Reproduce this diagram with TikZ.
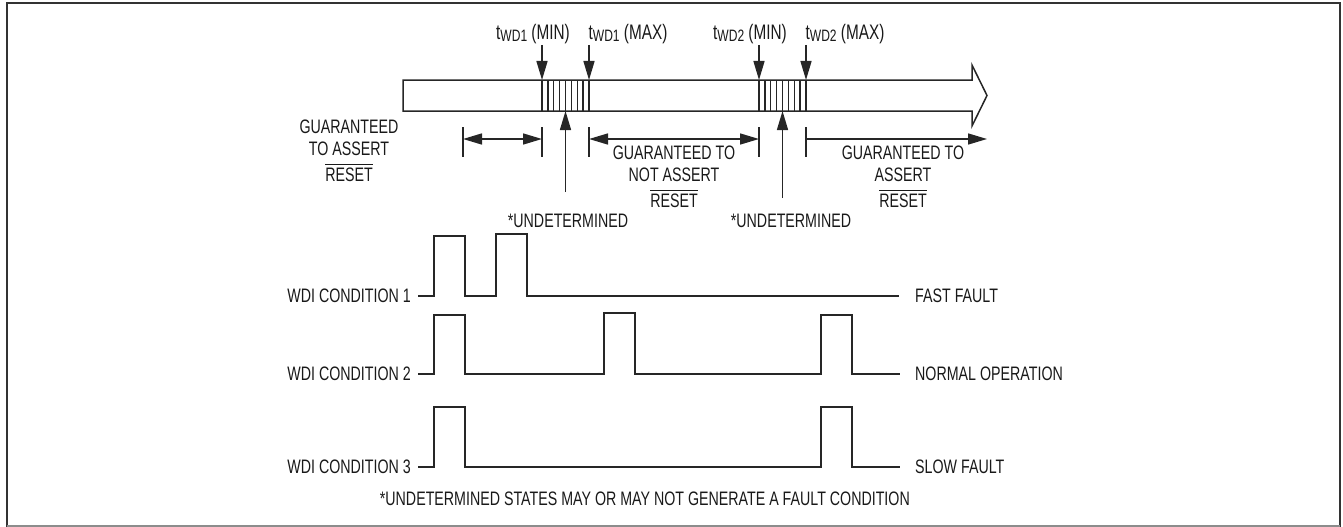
\documentclass[tikz,border=0pt]{standalone}
\usepackage{fontspec}
\setmainfont{Liberation Sans}[FakeStretch=0.73]
\usetikzlibrary{arrows.meta}
\newcommand\ovl[1]{\leavevmode\setbox0\hbox{#1}\rlap{\rule[\dimexpr\ht0+3pt\relax]{\wd0}{1.1pt}}\box0}
\newcommand\twd[1]{t\raisebox{-1.5pt}{\fontsize{16.5}{17}\selectfont WD#1}}
\begin{document}
\begin{tikzpicture}[x=1pt,y=-1pt,
  txt/.style={inner sep=0pt,font=\fontsize{19.5}{22}\selectfont,text=black!90},
  tlbl/.style={inner sep=0pt,font=\fontsize{21}{22}\selectfont,text=black!90,anchor=base},
  mline/.style={txt,align=center,anchor=north},
  ln/.style={line width=1.5pt,draw=black!85},
  arr/.style={ln,-{Triangle[length=19pt,width=11pt]}},
  darr/.style={ln,{Triangle[length=19pt,width=11pt]}-{Triangle[length=19pt,width=11pt]}},
  wave/.style={line width=1.6pt,draw=black!85},
  hatch/.style={line width=1.3pt,draw=black!85}]
\useasboundingbox (0,0) rectangle (1343,527);
% frame
\draw[line width=2.6pt,black!80] (7,527) -- (7,3) -- (1340,3) -- (1340,527);
\draw[line width=1.2pt,black!45] (7,526) -- (1340,526);
% timeline bar
\draw[ln] (403,80) -- (972,80) -- (972,65) -- (987,95.5) -- (972,126) -- (972,111) -- (403,111) -- cycle;
\foreach \i in {0,...,8} {
  \draw[hatch] (542+\i*5.875,80) -- (542+\i*5.875,111);
  \draw[hatch] (759+\i*5.875,80) -- (759+\i*5.875,111);
}
% window coordinates
\coordinate (h1a) at (542,80); \coordinate (h1b) at (589,80);
\coordinate (h2a) at (759,80); \coordinate (h2b) at (806,80);
\coordinate (u1) at (565.5,111); \coordinate (u2) at (782.5,111);
% t labels
\node[tlbl] (tmin1) at (533,40) {\twd{1} (MIN)};
\node[tlbl] (tmax1) at (628,40) {\twd{1} (MAX)};
\node[tlbl] (tmin2) at (750,40) {\twd{2} (MIN)};
\node[tlbl] (tmax2) at (845,40) {\twd{2} (MAX)};
\draw[arr] (h1a |- 0,45) -- (h1a);
\draw[arr] (h1b |- 0,45) -- (h1b);
\draw[arr] (h2a |- 0,45) -- (h2a);
\draw[arr] (h2b |- 0,45) -- (h2b);
% ticks
\foreach \x in {463,542,589,759,806} \draw[ln] (\x,127) -- (\x,157);
\coordinate (a0) at (463,139); \coordinate (a1) at (542,139);
\coordinate (a2) at (589,139); \coordinate (a3) at (759,139);
\coordinate (a4) at (806,139); \coordinate (a5) at (987,139);
\draw[darr] (a0) -- (a1);
\draw[darr] (a2) -- (a3);
\draw[arr] (a4) -- (a5);
% guarantee labels
\node[mline] (g0) at (349,120) {GUARANTEED\\TO ASSERT\\[4pt]\ovl{RESET}};
\node[mline] (g1) at (674,146) {GUARANTEED TO\\NOT ASSERT\\[4pt]\ovl{RESET}};
\node[mline] (g2) at (903,146) {GUARANTEED TO\\ASSERT\\[4pt]\ovl{RESET}};
% undetermined
\node[txt,anchor=base] (und1) at (568,227) {*UNDETERMINED};
\node[txt,anchor=base] (und2) at (791,227) {*UNDETERMINED};
\draw[arr] (u1 |- 0,192) -- (u1);
\draw[arr] (u2 |- 0,198) -- (u2);
% waveforms
\node[txt,anchor=east] (c1) at (411,296) {WDI CONDITION 1};
\node[txt,anchor=east] (c2) at (411,374) {WDI CONDITION 2};
\node[txt,anchor=east] (c3) at (411,467) {WDI CONDITION 3};
\node[txt,anchor=west] (r1) at (915,296) {FAST FAULT};
\node[txt,anchor=west] (r2) at (915,374) {NORMAL OPERATION};
\node[txt,anchor=west] (r3) at (915,467) {SLOW FAULT};
\draw[wave] ([xshift=7pt]c1.east) -| (434,236) -| (465,296) -| (496,234) -| (527,296) -- ([xshift=-16pt]r1.west);
\draw[wave] ([xshift=7pt]c2.east) -| (434,315) -| (465,374) -| (604,313) -| (635,374) -| (821,315) -| (852,374) -- ([xshift=-15pt]r2.west);
\draw[wave] ([xshift=7pt]c3.east) -| (434,407) -| (465,467) -| (821,407) -| (852,467) -- ([xshift=-15pt]r3.west);
% footnote
\node[txt,anchor=base east] (foot) at (910,505) {*UNDETERMINED STATES MAY OR MAY NOT GENERATE A FAULT CONDITION};
\end{tikzpicture}
\end{document}
